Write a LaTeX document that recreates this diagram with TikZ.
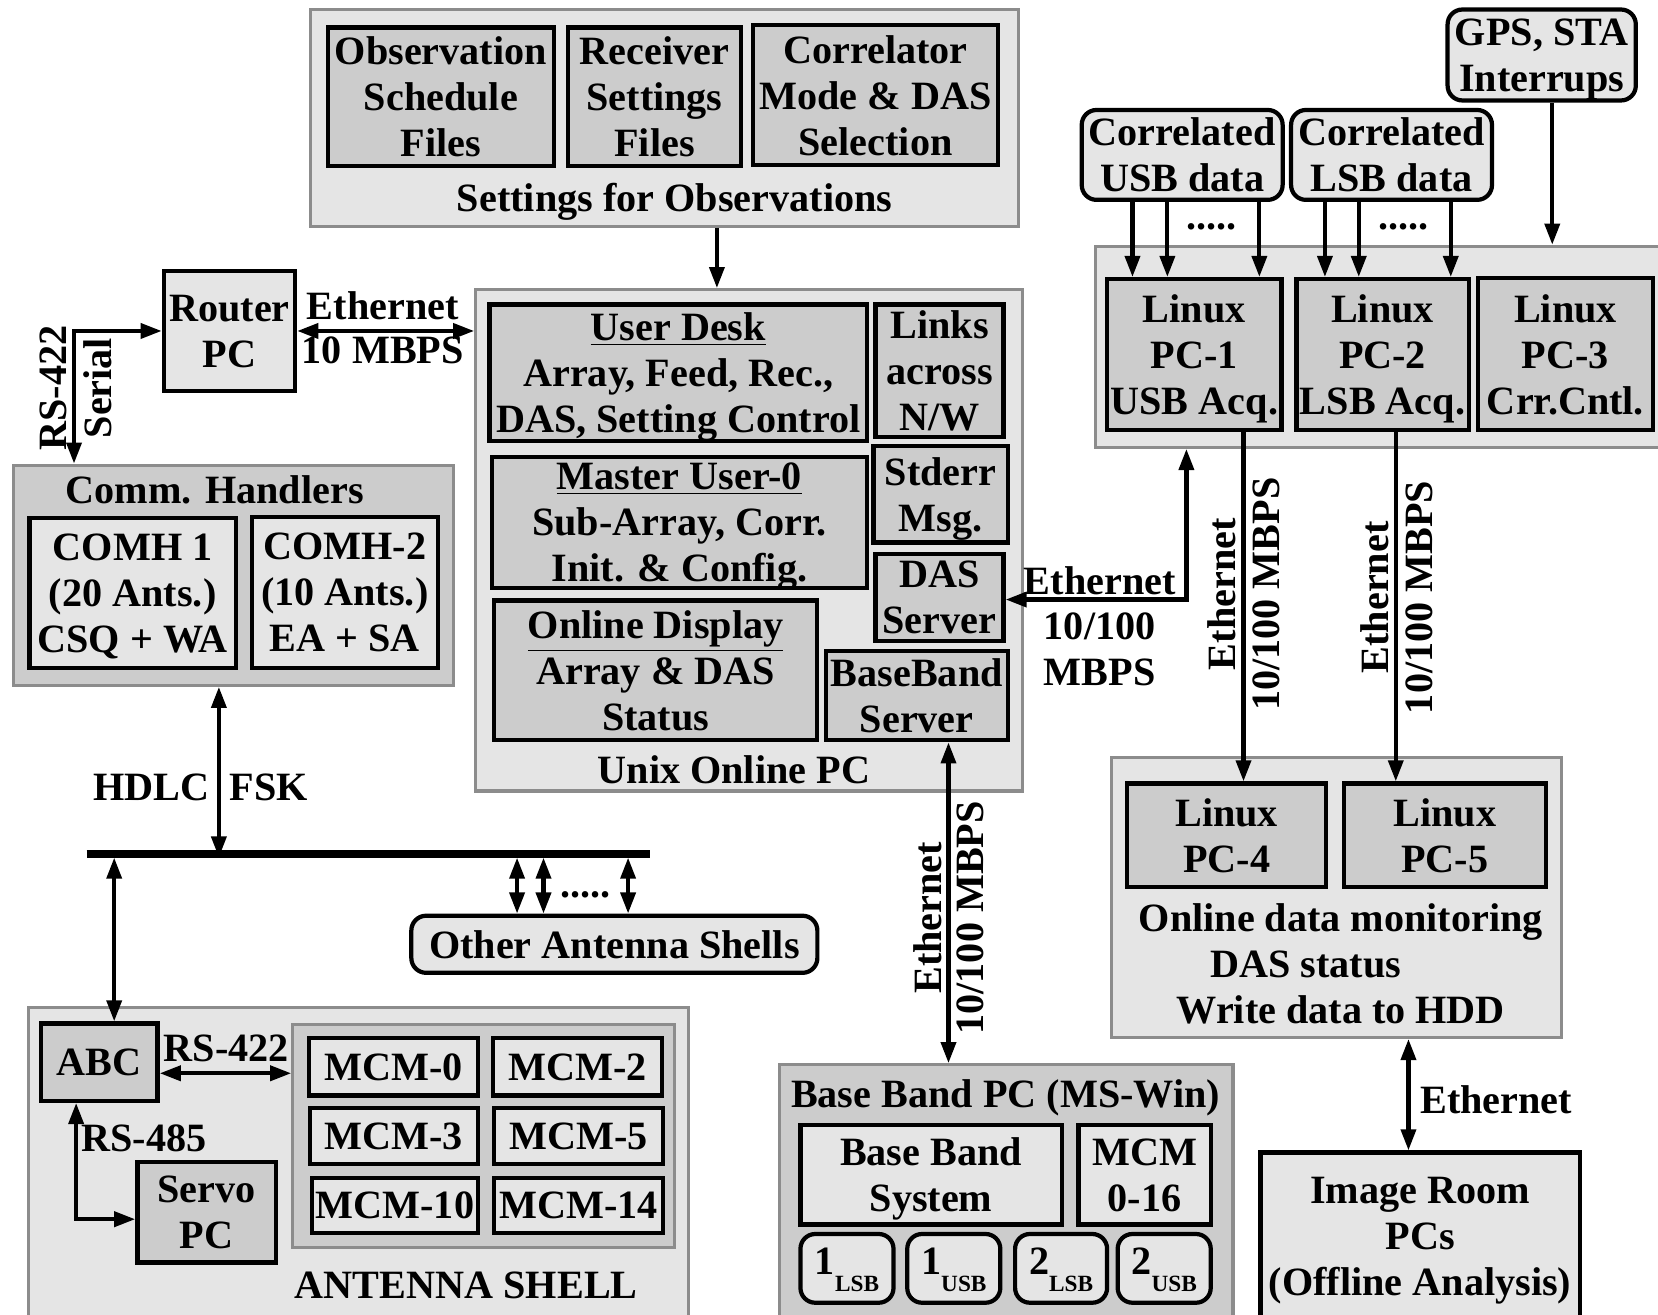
\documentclass[tikz,border=0pt]{standalone}
\usepackage{fontspec}
\setmainfont{Liberation Serif}
\usetikzlibrary{arrows.meta,calc}
\definecolor{lg}{gray}{0.9}
\definecolor{mg}{gray}{0.8}
\definecolor{bd}{gray}{0.55}
\newcommand\bx[7]{\node[#2, minimum width={(#5-#3)*0.5pt}, minimum height={(#6-#4)*0.5pt}] (#1) at ({(#3+#5)/2},{(#4+#6)/2}) {#7};}
\newcommand\sbx[2]{#1\raisebox{-8pt}{\fontsize{11}{11}\selectfont #2}}
\tikzset{
 every node/.style={font={\fontsize{19}{21.75}\selectfont\bfseries}, inner sep=0pt, align=center, text=black, text depth=0pt},
 outerl/.style={draw=bd, line width=1.5pt, fill=lg},
 outerm/.style={draw=bd, line width=1.5pt, fill=mg},
 boxm/.style={draw=black, line width=2pt, fill=mg},
 boxl/.style={draw=black, line width=2pt, fill=lg},
 rbox/.style={boxl, rounded corners=7pt},
 arr/.style={line width=2pt, -{Triangle[length=10pt,width=7pt]}},
 darr/.style={line width=2pt, {Triangle[length=10pt,width=7pt]}-{Triangle[length=10pt,width=7pt]}},
 vl/.style={rotate=90},
}
\begin{document}
\begin{tikzpicture}[x=0.5pt,y=-0.5pt]
\useasboundingbox (0,0) rectangle (1568,1243);
% ---------- settings
\bx{settings}{outerl}{294}{9}{963}{214}{}
\bx{obs}{boxm}{310}{26}{524}{157}{Observation\\Schedule\\Files}
\bx{recv}{boxm}{537}{26}{701}{157}{Receiver\\Settings\\Files}
\bx{corr}{boxm}{712}{24}{944}{156}{Correlator\\Mode \& DAS\\Selection}
\node (setlbl) at (638,187) {Settings for Observations};
% ---------- unix
\bx{unix}{outerl}{450}{274}{967}{748}{}
\bx{udesk}{boxm}{463}{288}{820}{417}{\underline{User Desk}\\Array, Feed, Rec.,\\DAS, Setting Control}
\bx{links}{boxm}{828}{288}{949}{413}{Links\\across\\N/W}
\bx{master}{boxm}{465}{432}{820}{556}{\underline{Master User-0}\\Sub-Array, Corr.\\Init. \& Config.}
\bx{stderr}{boxm}{826}{422}{953}{513}{Stderr\\Msg.}
\bx{dass}{boxm}{828}{524}{949}{606}{DAS\\Server}
\bx{onl}{boxm}{467}{568}{773}{700}{\underline{Online Display}\\Array \& DAS\\Status}
\bx{bbs}{boxm}{781}{616}{953}{700}{BaseBand\\Server}
\node (unixlbl) at (694,728) {Unix Online PC};
% ---------- router
\bx{router}{boxl}{155}{256}{279}{370}{Router\\PC}
\node (eth1) at (362,289) {Ethernet};
\node (eth1b) at (362,331) {10 MBPS};
\node[vl] (rs422a) at (50,367) {RS-422};
\node[vl] (seriala) at (92,367) {Serial};
% ---------- comm handlers
\bx{commh}{outerm}{13}{440}{429}{648}{}
\node (commlbl) at (203,463) {Comm. Handlers};
\bx{comh1}{boxl}{28}{490}{223}{632}{COMH 1\\(20 Ants.)\\CSQ + WA}
\bx{comh2}{boxl}{238}{489}{414}{632}{COMH-2\\(10 Ants.)\\EA + SA}
\node (hdlc) at (143,744) {HDLC};
\node (fsk) at (254,744) {FSK};
% ---------- other antenna shells
\bx{oas}{rbox}{389}{866}{773}{920}{Other Antenna Shells}
\node (odots) at (554,846) {.....};
% ---------- antenna shell
\bx{ant}{outerl}{27}{953}{651}{1260}{}
\bx{abc}{boxm}{39}{968}{149}{1041}{ABC}
\bx{mcmg}{outerm}{277}{969}{638}{1180}{}
\bx{mcm0}{boxl}{292}{982}{452}{1036}{MCM-0}
\bx{mcm2}{boxl}{466}{982}{626}{1036}{MCM-2}
\bx{mcm3}{boxl}{293}{1048}{452}{1101}{MCM-3}
\bx{mcm5}{boxl}{467}{1048}{627}{1101}{MCM-5}
\bx{mcm10}{boxl}{295}{1114}{452}{1166}{MCM-10}
\bx{mcm14}{boxl}{467}{1114}{627}{1166}{MCM-14}
\bx{servo}{boxm}{130}{1099}{261}{1194}{Servo\\PC}
\node (rs422b) at (214,991) {RS-422};
\node (rs485) at (136,1076) {RS-485};
\node (antlbl) at (441,1215) {ANTENNA SHELL};
% ---------- base band pc
\bx{bbpc}{outerm}{737}{1007}{1166}{1260}{}
\node (bblbl) at (951,1034) {Base Band PC (MS-Win)};
\bx{bbsys}{boxl}{757}{1064}{1004}{1158}{Base Band\\System}
\bx{mcm16}{boxl}{1020}{1064}{1145}{1158}{MCM\\0-16}
\bx{ls1}{rbox, text depth=6.5pt}{757}{1167}{845}{1232}{\sbx{1}{LSB}}
\bx{us1}{rbox, text depth=6.5pt}{858}{1167}{946}{1232}{\sbx{1}{USB}}
\bx{ls2}{rbox, text depth=6.5pt}{960}{1167}{1047}{1232}{\sbx{2}{LSB}}
\bx{us2}{rbox, text depth=6.5pt}{1057}{1167}{1145}{1232}{\sbx{2}{USB}}
\node[vl] (bbeth) at (877,868) {Ethernet};
\node[vl] (bbmb) at (917,868) {10/100 MBPS};
% ---------- right top
\bx{gps}{rbox}{1369}{9}{1547}{95}{GPS, STA\\Interrups}
\bx{cusb}{rbox}{1023}{104}{1213}{189}{Correlated\\USB data}
\bx{clsb}{rbox}{1221}{104}{1411}{189}{Correlated\\LSB data}
\node (udots) at (1146,214) {.....};
\node (ldots) at (1327,214) {.....};
\bx{linuxo}{outerl}{1036}{233}{1580}{423}{}
\bx{pc1}{boxm}{1047}{264}{1212}{407}{Linux\\PC-1\\USB Acq.}
\bx{pc2}{boxm}{1226}{264}{1389}{407}{Linux\\PC-2\\LSB Acq.}
\bx{pc3}{boxm}{1398}{263}{1563}{407}{Linux\\PC-3\\Crr.Cntl.}
\node (deth) at (1040,549) {Ethernet};
\node (deth2) at (1040,592) {10/100};
\node (deth3) at (1040,636) {MBPS};
\node[vl] (e4a) at (1155,562) {Ethernet};
\node[vl] (e4b) at (1197,562) {10/100 MBPS};
\node[vl] (e5a) at (1300,565) {Ethernet};
\node[vl] (e5b) at (1342,565) {10/100 MBPS};
% ---------- online data
\bx{odm}{outerl}{1051}{716}{1477}{981}{}
\bx{pc4}{boxm}{1066}{741}{1254}{839}{Linux\\PC-4}
\bx{pc5}{boxm}{1271}{741}{1462}{839}{Linux\\PC-5}
\node (odm1) at (1268,868) {Online data monitoring};
\node (odm2) at (1235,912) {DAS status};
\node (odm3) at (1268,955) {Write data to HDD};
\bx{img}{boxl}{1192}{1090}{1494}{1260}{}
\node (imglbl) at (1343,1169) {Image Room\\PCs\\(Offline Analysis)};
\node (ieth) at (1415,1040) {Ethernet};
% ---------- coordinates for connector positions
\coordinate (sx) at (678,0);
\coordinate (rsb) at (70,313);
\coordinate (hd) at (207,811);
\coordinate (ab) at (108,811);
\coordinate (o1) at (489,811);
\coordinate (o2) at (514,811);
\coordinate (o3) at (594,811);
\coordinate (busL) at (82,808);
\coordinate (busR) at (615,808);
\coordinate (rs4) at (0,1015);
\coordinate (rs485c) at (72,1153);
\coordinate (bbx) at (897,0);
\coordinate (u1) at (1071,0);
\coordinate (u2) at (1104,0);
\coordinate (u3) at (1191,0);
\coordinate (l1) at (1253,0);
\coordinate (l2) at (1285,0);
\coordinate (l3) at (1372,0);
\coordinate (gx) at (1468,0);
\coordinate (ethc) at (1122,567);
\coordinate (p4x) at (1176,0);
\coordinate (p5x) at (1320,0);
\coordinate (ix) at (1332,0);
% ---------- connectors
\draw[arr] (sx |- settings.south) -- (sx |- unix.north);
\draw[darr] (router.east) -- (router.east -| unix.west);
\draw[darr] (router.west) -- (rsb) -- (rsb |- commh.north);
\draw[line width=3.7pt] (busL) -- (busR);
\draw[darr] (hd |- commh.south) -- (hd);
\draw[darr] (ab) -- (ab |- abc.north);
\draw[darr] (o1) -- (o1 |- oas.north);
\draw[darr] (o2) -- (o2 |- oas.north);
\draw[darr] (o3) -- (o3 |- oas.north);
\draw[darr] (abc.east |- rs4) -- (mcmg.west |- rs4);
\draw[darr] (rs485c |- abc.south) -- (rs485c) -- (rs485c -| servo.west);
\draw[darr] (bbx |- bbs.south) -- (bbx |- bbpc.north);
\draw[arr] (u1 |- cusb.south) -- (u1 |- pc1.north);
\draw[arr] (u2 |- cusb.south) -- (u2 |- pc1.north);
\draw[arr] (u3 |- cusb.south) -- (u3 |- pc1.north);
\draw[arr] (l1 |- clsb.south) -- (l1 |- pc2.north);
\draw[arr] (l2 |- clsb.south) -- (l2 |- pc2.north);
\draw[arr] (l3 |- clsb.south) -- (l3 |- pc2.north);
\draw[arr] (gx |- gps.south) -- (gx |- linuxo.north);
\draw[darr] (ethc |- linuxo.south) -- (ethc) -- (ethc -| dass.east);
\draw[arr] (p4x |- pc1.south) -- (p4x |- pc4.north);
\draw[arr] (p5x |- pc2.south) -- (p5x |- pc5.north);
\draw[darr] (ix |- odm.south) -- (ix |- img.north);
\end{tikzpicture}
\end{document}
